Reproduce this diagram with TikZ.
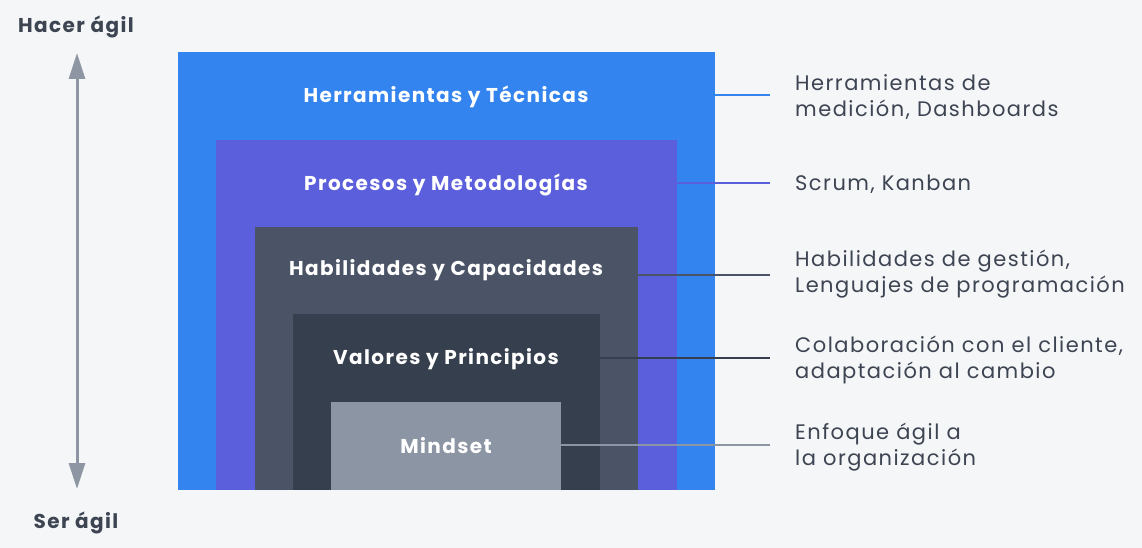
\documentclass[tikz,border=0pt]{standalone}
\usepackage{fontspec}
\setmainfont{Poppins}
\newfontfamily\sidefont{Poppins}[LetterSpace=7]
\newfontfamily\boxfont{Poppins}[LetterSpace=7]
\usetikzlibrary{arrows.meta}
\definecolor{bg}{HTML}{F5F6F8}
\definecolor{cblue}{HTML}{3384EE}
\definecolor{cpurple}{HTML}{5B5FDC}
\definecolor{cslate}{HTML}{4B5466}
\definecolor{cdark}{HTML}{363F4E}
\definecolor{cgray}{HTML}{8C95A3}
\definecolor{ctext}{HTML}{3D4452}
\definecolor{carrow}{HTML}{8E96A3}
\tikzset{
  layer/.style={draw=none},
  boxlabel/.style={text=white,font=\boxfont\bfseries\fontsize{20}{22}\selectfont,anchor=center,inner sep=0pt},
  sidelabel/.style={text=ctext,font=\sidefont\fontsize{21}{26}\selectfont,anchor=west,align=left,inner sep=0pt},
  sidelabelb/.style={text=ctext,font=\boxfont\bfseries\fontsize{20}{22}\selectfont,inner sep=0pt},
  leader/.style={line width=1.6pt},
}
\begin{document}
\begin{tikzpicture}[x=1pt,y=-1pt]
\fill[bg] (0,0) rectangle (1142,548);
\useasboundingbox (0,0) rectangle (1142,548);
% layers
\fill[cblue] (178,52) rectangle (715,490);
\fill[cpurple] (216,140) rectangle (677,490);
\fill[cslate] (255,227) rectangle (638,490);
\fill[cdark] (293,314) rectangle (600,490);
\fill[cgray] (331,402) rectangle (561,490);
% box labels
\node[boxlabel] (l1) at (446,97) {Herramientas y Técnicas};
\node[boxlabel] (l2) at (446,185) {Procesos y Metodologías};
\node[boxlabel] (l3) at (446,270) {Habilidades y Capacidades};
\node[boxlabel] (l4) at (446,359) {Valores y Principios};
\node[boxlabel] (l5) at (446,446) {Mindset};
% leader anchors
\coordinate (s1) at (715,95);
\coordinate (s2) at (677,183);
\coordinate (s3) at (638,275);
\coordinate (s4) at (600,358);
\coordinate (s5) at (561,445);
\coordinate (e1) at (770,95);
\coordinate (e2) at (770,183);
\coordinate (e3) at (770,275);
\coordinate (e4) at (770,358);
\coordinate (e5) at (770,445);
\draw[leader,cblue] (s1) -- (e1);
\draw[leader,cpurple] (s2) -- (e2);
\draw[leader,cslate] (s3) -- (e3);
\draw[leader,cdark] (s4) -- (e4);
\draw[leader,cgray] (s5) -- (e5);
% side labels
\node[sidelabel] (r1) at (795,97) {Herramientas de\\medición, Dashboards};
\node[sidelabel] (r2) at (795,184) {Scrum, Kanban};
\node[sidelabel] (r3) at (795,274) {Habilidades de gestión,\\Lenguajes de programación};
\node[sidelabel] (r4) at (795,360) {Colaboración con el cliente,\\adaptación al cambio};
\node[sidelabel] (r5) at (795,447) {Enfoque ágil a\\la organización};
% axis
\node[sidelabelb] (top) at (76,27) {Hacer ágil};
\node[sidelabelb] (bot) at (76,523) {Ser ágil};
\coordinate (at) at (77,53);
\coordinate (ab) at (77,489);
\draw[carrow,line width=3pt,{Triangle[length=26pt,width=16pt]}-{Triangle[length=26pt,width=16pt]}] (at) -- (ab);
\end{tikzpicture}
\end{document}
